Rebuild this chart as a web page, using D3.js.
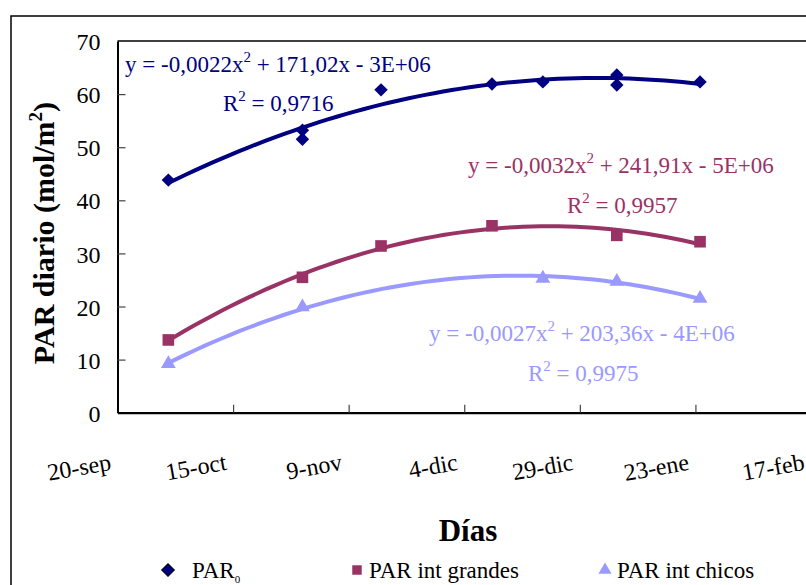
<!DOCTYPE html>
<html>
<head>
<meta charset="utf-8">
<script src="https://cdn.jsdelivr.net/npm/d3@7"></script>
<style>
  body { margin: 0; background: #fff; }
  svg { display: block; }
  text { font-family: "Liberation Serif", "Times New Roman", serif; }
</style>
</head>
<body>
<svg width="806" height="585"></svg>
<script>
// values
const parDates = ["2005-10-01", "2005-10-30", "2005-10-30", "2005-11-16", "2005-12-10", "2005-12-21", "2006-01-06", "2006-01-06", "2006-01-24"];
const parValues = [43.8, 53.2, 51.5, 60.8, 61.9, 62.3, 63.6, 61.7, 62.3];

const grandesDates = ["2005-10-01", "2005-10-30", "2005-11-16", "2005-12-10", "2006-01-06", "2006-01-24"];
const grandesValues = [13.7, 25.5, 31.4, 35.2, 33.4, 32.2];

const chicosDates = ["2005-10-01", "2005-10-30", "2005-12-21", "2006-01-06", "2006-01-24"];
const chicosValues = [9.2, 19.9, 25.3, 24.7, 21.5];

const xTickLabels = ["20-sep", "15-oct", "9-nov", "4-dic", "29-dic", "23-ene", "17-feb"];
const yTicks = [0, 10, 20, 30, 40, 50, 60, 70];

const eqTexts = [
  ["y = -0,0022x", "2", " + 171,02x - 3E+06", "0,9716"],
  ["y = -0,0032x", "2", " + 241,91x - 5E+06", "0,9957"],
  ["y = -0,0027x", "2", " + 203,36x - 4E+06", "0,9975"]
];

const parse = d3.utcParse("%Y-%m-%d");
const start = parse("2005-09-20");
const end = parse("2006-02-17");

const svg = d3.select("svg");
const serif = "'Liberation Serif', 'Times New Roman', serif";

const plot = {left: 117.5, top: 41, right: 811, bottom: 412.7};

const x = d3.scaleUtc().domain([start, end]).range([plot.left, plot.right]);
const y = d3.scaleLinear().domain([0, 70]).range([plot.bottom, plot.top]);

const series = [
  {dates: parDates, values: parValues, color: "#000080", symbol: "diamond"},
  {dates: grandesDates, values: grandesValues, color: "#993366", symbol: "square"},
  {dates: chicosDates, values: chicosValues, color: "#9999ff", symbol: "triangle"}
];

// outer chart frame
svg.append("rect")
  .attr("x", 11).attr("y", 16)
  .attr("width", 820).attr("height", 600)
  .attr("fill", "none")
  .attr("stroke", "#000")
  .attr("stroke-width", 1.5);

// plot frame (top)
svg.append("line")
  .attr("x1", plot.left).attr("x2", plot.right)
  .attr("y1", plot.top).attr("y2", plot.top)
  .attr("stroke", "#000").attr("stroke-width", 1.5);

// axes
const xTickDates = xTickLabels.map((d, i) => d3.utcDay.offset(start, 25 * i));

const xAxis = svg.append("g")
  .attr("transform", `translate(0,${plot.bottom})`)
  .attr("font-family", serif)
  .call(d3.axisBottom(x)
    .tickValues(xTickDates)
    .tickSizeInner(-8)
    .tickSizeOuter(0)
    .tickFormat((d, i) => xTickLabels[i]));

xAxis.attr("font-family", serif);
xAxis.select(".domain").attr("stroke", "#000").attr("stroke-width", 2.2);
xAxis.selectAll(".tick line").attr("stroke", "#444").attr("stroke-width", 1.2);
xAxis.selectAll(".tick text")
  .attr("x", 0).attr("y", 0).attr("dy", 0)
  .attr("transform", "translate(-6,57) rotate(-10)")
  .attr("text-anchor", "end")
  .attr("fill", "#000")
  .style("font-size", "24px")
  .style("font-family", serif);

const yAxis = svg.append("g")
  .attr("transform", `translate(${plot.left},0)`)
  .call(d3.axisLeft(y)
    .tickValues(yTicks)
    .tickSizeInner(-8)
    .tickSizeOuter(0)
    .tickFormat(d3.format("d")));

yAxis.attr("font-family", serif);
yAxis.select(".domain").attr("stroke", "#000").attr("stroke-width", 2);
yAxis.selectAll(".tick line")
  .attr("stroke", "#444").attr("stroke-width", 1.2)
  .attr("display", d => (d === 0 || d === 70) ? "none" : null);
yAxis.selectAll(".tick text")
  .attr("x", -17)
  .attr("dy", "0.36em")
  .attr("fill", "#000")
  .style("font-size", "24px")
  .style("font-family", serif);

// axis titles
const yTitle = svg.append("text")
  .attr("transform", "translate(54,233) rotate(-90)")
  .attr("text-anchor", "middle")
  .style("font-size", "30px")
  .style("font-weight", "bold");
yTitle.append("tspan").text("PAR diario (mol/m");
yTitle.append("tspan").attr("dy", -12).style("font-size", "19px").text("2");
yTitle.append("tspan").attr("dy", 12).text(")");

svg.append("text")
  .attr("x", 468).attr("y", 541)
  .attr("text-anchor", "middle")
  .style("font-size", "31px")
  .style("font-weight", "bold")
  .text("Días");

// quadratic least squares trendline
function quadFit(xs, ys) {
  let s = [0, 0, 0, 0, 0];
  let t = [0, 0, 0];
  xs.forEach((xv, i) => {
    for (let k = 0; k < 5; k++) s[k] += Math.pow(xv, k);
    for (let k = 0; k < 3; k++) t[k] += ys[i] * Math.pow(xv, k);
  });
  const m = [
    [s[0], s[1], s[2], t[0]],
    [s[1], s[2], s[3], t[1]],
    [s[2], s[3], s[4], t[2]]
  ];
  for (let c = 0; c < 3; c++) {
    for (let r = c + 1; r < 3; r++) {
      const f = m[r][c] / m[c][c];
      for (let k = c; k < 4; k++) m[r][k] -= f * m[c][k];
    }
  }
  const coef = [0, 0, 0];
  for (let r = 2; r >= 0; r--) {
    let v = m[r][3];
    for (let k = r + 1; k < 3; k++) v -= m[r][k] * coef[k];
    coef[r] = v / m[r][r];
  }
  return coef;
}

const dayMs = 864e5;
const line = d3.line()
  .x(d => x(new Date(start.getTime() + d[0] * dayMs)))
  .y(d => y(d[1]));

const symbolFor = {
  diamond: d3.symbol().type(d3.symbolSquare).size(90),
  square: d3.symbol().type(d3.symbolSquare).size(135),
  triangle: d3.symbol().type(d3.symbolTriangle).size(95)
};

series.forEach(s => {
  const days = s.dates.map(d => (parse(d) - start) / dayMs);
  const c = quadFit(days, s.values);
  const d0 = d3.min(days), d1 = d3.max(days);
  const pts = d3.range(0, 61).map(i => {
    const dd = d0 + (d1 - d0) * i / 60;
    return [dd, c[0] + c[1] * dd + c[2] * dd * dd];
  });
  svg.append("path")
    .datum(pts)
    .attr("fill", "none")
    .attr("stroke", s.color)
    .attr("stroke-width", 4)
    .attr("stroke-linejoin", "round")
    .attr("d", line);
});

series.forEach(s => {
  svg.selectAll(null)
    .data(s.dates.map((d, i) => ({date: parse(d), value: s.values[i]})))
    .enter().append("path")
    .attr("d", symbolFor[s.symbol])
    .attr("fill", s.color)
    .attr("transform", d => `translate(${x(d.date)},${y(d.value)})` + (s.symbol === "diamond" ? " rotate(45)" : ""));
});

// trendline equations
const eqPos = [
  {x: 125, y: 72, rx: 223, ry: 111},
  {x: 468, y: 173, rx: 567, ry: 213},
  {x: 429, y: 341, rx: 528, ry: 381}
];

eqTexts.forEach((e, i) => {
  const p = eqPos[i];
  const col = series[i].color;
  const t = svg.append("text")
    .attr("x", p.x).attr("y", p.y)
    .attr("fill", col)
    .style("font-size", "23px");
  t.append("tspan").text(e[0]);
  t.append("tspan").attr("dy", -10).style("font-size", "15px").text(e[1]);
  t.append("tspan").attr("dy", 10).text(e[2]);

  const r = svg.append("text")
    .attr("x", p.rx).attr("y", p.ry)
    .attr("fill", col)
    .style("font-size", "23px");
  r.append("tspan").text("R");
  r.append("tspan").attr("dy", -10).style("font-size", "15px").text("2");
  r.append("tspan").attr("dy", 10).text(" = " + e[3]);
});

// legend
const legendItems = [
  {x: 168, label: "PAR", sub: "0"},
  {x: 357, label: "PAR int grandes", sub: null},
  {x: 605, label: "PAR int chicos", sub: null}
];

legendItems.forEach((item, i) => {
  const s = series[i];
  const g = svg.append("g").attr("transform", `translate(${item.x},570)`);
  if (s.symbol === "diamond") {
    g.append("path")
      .attr("d", d3.symbol().type(d3.symbolSquare).size(80))
      .attr("transform", "rotate(45)")
      .attr("fill", s.color)
      .attr("stroke", "#000")
      .attr("stroke-width", 1);
  } else if (s.symbol === "square") {
    g.append("path")
      .attr("d", d3.symbol().type(d3.symbolSquare).size(90))
      .attr("fill", s.color);
  } else {
    g.append("path")
      .attr("d", d3.symbol().type(d3.symbolTriangle).size(75))
      .attr("fill", s.color);
  }
  const t = g.append("text")
    .attr("x", s.symbol === "diamond" ? 24 : 12)
    .attr("y", 8)
    .attr("fill", "#000")
    .style("font-size", "23px");
  t.append("tspan").text(item.label);
  if (item.sub) {
    t.append("tspan").attr("dy", 5).style("font-size", "11px").text(item.sub);
  }
});
</script>
</body>
</html>
